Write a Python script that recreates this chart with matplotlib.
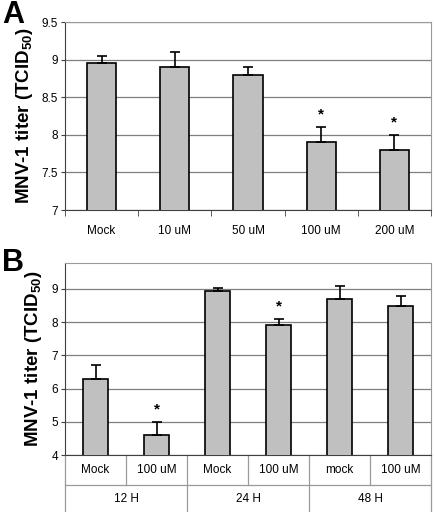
import matplotlib
matplotlib.use("Agg")
import matplotlib.pyplot as plt

plt.rcParams["font.family"] = ["Liberation Sans", "DejaVu Sans"]
plt.rcParams["mathtext.default"] = "regular"

# ---- Panel A data ----
a_labels = ["Mock", "10 uM", "50 uM", "100 uM", "200 uM"]
a_values = [8.95, 8.9, 8.8, 7.9, 7.8]
a_errors = [0.1, 0.2, 0.1, 0.2, 0.2]
a_signif = [False, False, False, True, True]

# ---- Panel B data ----
b_labels = ["Mock", "100 uM", "Mock", "100 uM", "mock", "100 uM"]
b_groups = ["12 H", "24 H", "48 H"]
b_values = [6.3, 4.6, 8.95, 7.9, 8.7, 8.5]
b_errors = [0.4, 0.4, 0.07, 0.2, 0.4, 0.28]
b_signif = [False, True, False, True, False, False]

BAR = "#c0c0c0"
GRID = "#7f7f7f"
FRAME = "#9a9a9a"
W, H = 434, 512

fig = plt.figure(figsize=(W / 100, H / 100), dpi=100)


def px_axes(left, top, right, bottom):
    return fig.add_axes([left / W, 1 - bottom / H, (right - left) / W, (bottom - top) / H])


def draw_bars(ax, values, errors, signif):
    x = list(range(len(values)))
    ax.bar(x, values, width=0.4, color=BAR, edgecolor="black", linewidth=1.2, zorder=3)
    ax.errorbar(x, values, yerr=[[0] * len(values), errors], fmt="none",
                ecolor="black", elinewidth=1.2, capsize=3.5, capthick=1.2, zorder=4)
    for xi, v, e, s in zip(x, values, errors, signif):
        if s:
            ax.annotate("*", (xi, v + e), xytext=(0, 9), textcoords="offset points",
                        ha="center", va="center", fontsize=11, fontweight="bold")
    ax.set_xlim(-0.5, len(values) - 0.5)
    ax.yaxis.grid(True, color=GRID, linewidth=0.9, zorder=0)
    ax.set_axisbelow(True)
    for side in ("top", "right"):
        ax.spines[side].set_color(FRAME)
    ax.spines["left"].set_color("#404040")
    ax.spines["bottom"].set_color("#404040")
    ax.tick_params(axis="y", labelsize=8.5, length=3, pad=2, color="#404040")
    ax.set_ylabel("MNV-1 titer (TCID$_{50}$)", fontsize=13.5, fontweight="bold", labelpad=5)


# ---- Panel A ----
axA = px_axes(65, 22, 431, 210)
draw_bars(axA, a_values, a_errors, a_signif)
axA.set_ylim(7, 9.5)
axA.set_yticks([7, 7.5, 8, 8.5, 9, 9.5])
axA.set_yticklabels(["7", "7.5", "8", "8.5", "9", "9.5"])
axA.set_xticks(range(len(a_labels)))
axA.set_xticklabels(a_labels, fontsize=8.5)
axA.tick_params(axis="x", length=0, pad=11)
axA.set_xticks([i + 0.5 for i in range(-1, len(a_labels))], minor=True)
axA.tick_params(axis="x", which="minor", length=4, color="#404040")
fig.text(2 / W, 1 - 0 / H, "A", fontsize=22, fontweight="bold", ha="left", va="top")

# ---- Panel B ----
axB = px_axes(65, 263, 431, 455)
draw_bars(axB, b_values, b_errors, b_signif)
axB.set_ylim(4, 9.78)
axB.set_yticks([4, 5, 6, 7, 8, 9])
axB.set_xticks([])
fig.text(2 / W, 1 - 248 / H, "B", fontsize=22, fontweight="bold", ha="left", va="top")

# category table under panel B
tr = axB.get_xaxis_transform()
row = 30 / 192
full = 57 / 192
n = len(b_labels)
axB.plot([-0.5, n - 0.5], [-row, -row], transform=tr, color=FRAME, lw=0.9, clip_on=False)
for b in range(n + 1):
    xb = b - 0.5
    depth = full if b % 2 == 0 else row
    axB.plot([xb, xb], [0, -depth], transform=tr, color=FRAME, lw=0.9, clip_on=False)
for i, lab in enumerate(b_labels):
    axB.text(i, -row / 2, lab, transform=tr, ha="center", va="center", fontsize=8.5)
for g, lab in enumerate(b_groups):
    axB.text(2 * g + 0.5, -(row + full) / 2, lab, transform=tr, ha="center",
             va="center", fontsize=8.5)

fig.savefig("out.png", dpi=100)
